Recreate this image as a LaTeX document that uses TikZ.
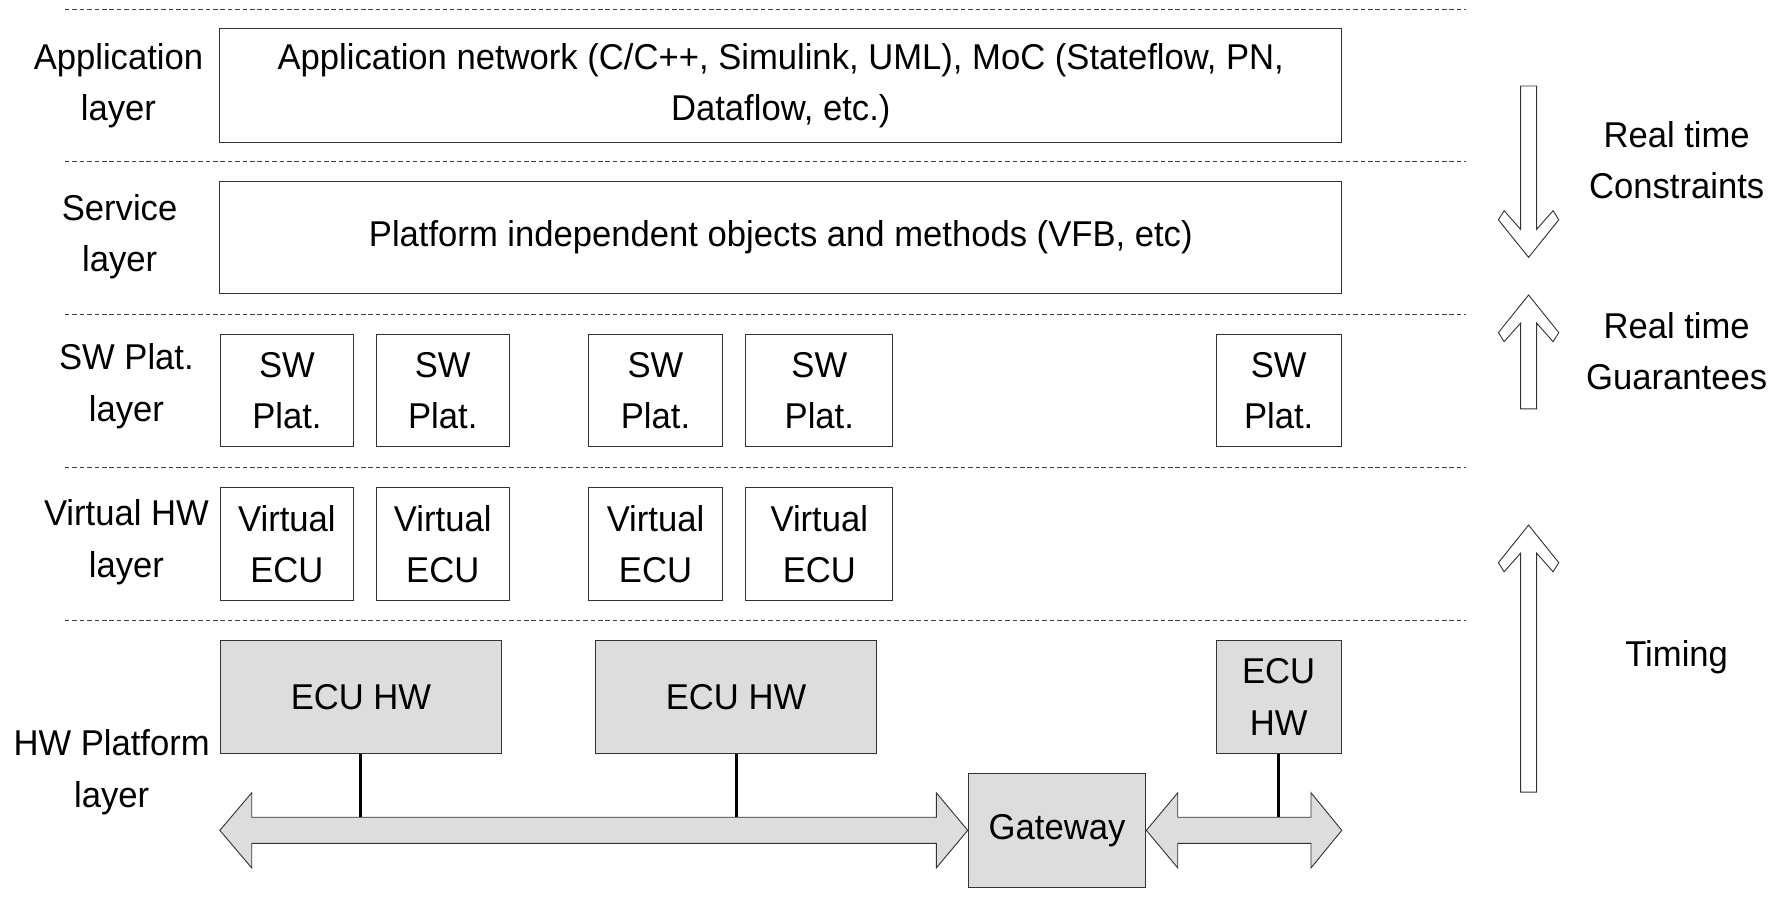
\documentclass[tikz,border=0pt]{standalone}
\usepackage{fontspec}
\setmainfont{Liberation Sans}[FakeStretch=0.965]
\usetikzlibrary{positioning}

\definecolor{hwgray}{HTML}{DDDDDD}
\newcommand{\layerfont}{\fontsize{31.5}{45}\selectfont}

\tikzset{
  box/.style={rectangle, draw=black!80, line width=0.8pt, fill=white,
              inner sep=0pt, align=center, font=\layerfont},
  hwbox/.style={box, fill=hwgray},
  swbox/.style={box, minimum width=117pt, minimum height=99pt},
  layername/.style={align=center, inner sep=0pt, font=\layerfont},
  layerline/.style={draw=black!75, line width=0.7pt, dash pattern=on 4pt off 2.5pt},
  busline/.style={line width=2.6pt},
  blockarrow/.style={draw=black!80, line width=0.8pt, fill=white},
}

\begin{document}
\begin{tikzpicture}[x=1pt, y=1pt]
    \useasboundingbox (0,0) rectangle (1568,802);

    % Layer borders
    \draw[layerline] (57,794) -- (1287,794);
    \draw[layerline] (57,660) -- (1287,660);
    \draw[layerline] (57,526) -- (1287,526);
    \draw[layerline] (57,392) -- (1287,392);
    \draw[layerline] (57,257) -- (1287,257);

    % Application and service layer
    \node[box, minimum width=985pt, minimum height=100pt] (app) at (685.5,727)
      {Application network (C/C++, Simulink, UML), MoC (Stateflow, PN,\\Dataflow, etc.)};
    \node[box, minimum width=985pt, minimum height=99pt] (srv) at (685.5,593.5)
      {Platform independent objects and methods (VFB, etc)};

    % SW platforms
    \node[swbox, anchor=north west] (sw1) at (193,509) {SW\\Plat.};
    \node[swbox, right=19pt of sw1] (sw2) {SW\\Plat.};
    \node[swbox, right=69pt of sw2] (sw3) {SW\\Plat.};
    \node[swbox, right=20pt of sw3, minimum width=129pt] (sw4) {SW\\Plat.};
    \node[swbox, anchor=north east, minimum width=110pt] (sw5) at (1178,509) {SW\\Plat.};

    % Virtual ECUs
    \node[swbox, below=35pt of sw1] (vecu1) {Virtual\\ECU};
    \node[swbox, below=35pt of sw2] (vecu2) {Virtual\\ECU};
    \node[swbox, below=35pt of sw3] (vecu3) {Virtual\\ECU};
    \node[swbox, below=35pt of sw4, minimum width=129pt] (vecu4) {Virtual\\ECU};

    % ECU hardware
    \node[hwbox, anchor=north west, minimum width=247pt, minimum height=99pt] (hw1) at (193,240) {ECU HW};
    \node[hwbox, right=82pt of hw1, minimum width=246pt, minimum height=99pt] (hw2) {ECU HW};
    \node[hwbox, anchor=north east, minimum width=110pt, minimum height=99pt] (hw3) at (1178,240) {ECU\\HW};
    \node[hwbox, minimum width=156pt, minimum height=100pt] (gw) at (928,73) {Gateway};

    % Buses
    \coordinate (bustop) at (0,84.5);
    \draw[blockarrow, fill=hwgray] (193,73) -- (221,106) -- (221,84.5) -- (822,84.5) -- (822,106)
      -- (gw.west) -- (822,40) -- (822,61.5) -- (221,61.5) -- (221,40) -- cycle;
    \draw[blockarrow, fill=hwgray] (gw.east) -- (1034,106) -- (1034,84.5) -- (1151,84.5) -- (1151,106)
      -- (1178,73) -- (1151,40) -- (1151,61.5) -- (1034,61.5) -- (1034,40) -- cycle;
    \draw[busline] (hw1.south) -- (hw1.south |- bustop);
    \draw[busline] (hw2.south) -- (hw2.south |- bustop);
    \draw[busline] (hw3.south) -- (hw3.south |- bustop);

    % Layer names
    \node[layername] (appname) at (104,727) {Application\\layer};
    \node[layername] (srvname) at (105,594) {Service\\layer};
    \node[layername] (swname) at (111,463) {SW Plat.\\layer};
    \node[layername] (vhwname) at (111,326) {Virtual HW\\layer};
    \node[layername] (hwname) at (98,124) {HW Platform\\layer};

    % Real time arrows
    \draw[blockarrow] (1342,576) -- (1368.5,609) -- (1363.5,617) -- (1349,600.6) -- (1349,726.5)
      -- (1335,726.5) -- (1335,600.6) -- (1320.5,617) -- (1315.5,609) -- cycle;
    \draw[blockarrow] (1342,543) -- (1368.5,510) -- (1363.5,502) -- (1349,518.4) -- (1349,443)
      -- (1335,443) -- (1335,518.4) -- (1320.5,502) -- (1315.5,510) -- cycle;
    \draw[blockarrow] (1342,341) -- (1368.5,308) -- (1363.5,300) -- (1349,316.4) -- (1349,106.5)
      -- (1335,106.5) -- (1335,316.4) -- (1320.5,300) -- (1315.5,308) -- cycle;
    \node[layername] (constr) at (1472,661.5) {Real time\\Constraints};
    \node[layername] (guar) at (1472,493.5) {Real time\\Guarantees};
    \node[layername] (timing) at (1472,225) {Timing};
\end{tikzpicture}
\end{document}
